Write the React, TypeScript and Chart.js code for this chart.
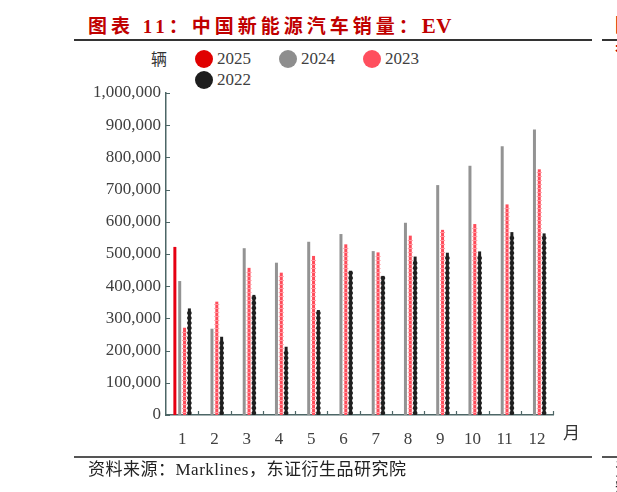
import { useEffect, useRef } from "react"
import { Chart, registerables } from "chart.js"

Chart.register(...registerables)

// data (vehicles per month)
const months = ["1", "2", "3", "4", "5", "6", "7", "8", "9", "10", "11", "12"]
const sales2025 = [522000]
const sales2024 = [416000, 268000, 518000, 473000, 538000, 562000, 509000, 597000, 714000, 774000, 835000, 887000]
const sales2023 = [271000, 352000, 457000, 442000, 494000, 530000, 505000, 557000, 575000, 593000, 654000, 763000]
const sales2022 = [331000, 243000, 373000, 212000, 326000, 448000, 432000, 492000, 504000, 508000, 568000, 564000]

const seriesNames = ["2025", "2024", "2023", "2022"]
const seriesColors = ["#e60012", "#939393", "#ff4d5b", "#1f1f1f"]
const legendColors = ["#e00000", "#8e8e8e", "#ff4f5e", "#1e1e1e"]

const yTickValues = [0, 100000, 200000, 300000, 400000, 500000, 600000, 700000, 800000, 900000, 1000000]

const SERIF = "'Liberation Serif', 'Noto Sans CJK SC', serif"
const AXIS_COLOR = "#4d6666"

// small inward ticks on both axes
const innerTicks = {
  id: "innerTicks",
  afterDraw(chart: any) {
    const { ctx, chartArea, scales } = chart
    const x = scales.x
    const y = scales.y
    ctx.save()
    ctx.strokeStyle = AXIS_COLOR
    ctx.lineWidth = 1.2
    ctx.beginPath()
    yTickValues.forEach((v) => {
      const py = Math.round(y.getPixelForValue(v)) + 0.5
      ctx.moveTo(chartArea.left, py)
      ctx.lineTo(chartArea.left + 4, py)
    })
    const step = x.width / months.length
    for (let i = 1; i <= months.length; i++) {
      const px = Math.round(x.left + i * step) + 0.5
      ctx.moveTo(px, chartArea.bottom)
      ctx.lineTo(px, chartArea.bottom - 4)
    }
    ctx.stroke()
    ctx.restore()
  },
}

// textured look of the 2023 / 2022 bars
const barTexture = {
  id: "barTexture",
  afterDatasetsDraw(chart: any) {
    const ctx = chart.ctx
    ctx.save()
    const m23 = chart.getDatasetMeta(2)
    ctx.fillStyle = "#ff9aa3"
    m23.data.forEach((bar: any) => {
      const { x, y, base, width } = bar.getProps(["x", "y", "base", "width"], true)
      for (let yy = base - 3; yy > y + 1; yy -= 4) {
        ctx.fillRect(x - width / 2 - 1, yy, width + 2, 1)
      }
    })
    const m22 = chart.getDatasetMeta(3)
    ctx.fillStyle = "#1f1f1f"
    m22.data.forEach((bar: any) => {
      const { x, y, base } = bar.getProps(["x", "y", "base", "width"], true)
      for (let yy = base - 2; yy > y + 2; yy -= 5) {
        ctx.beginPath()
        ctx.ellipse(x, yy, 2.4, 2, 0, 0, Math.PI * 2)
        ctx.fill()
      }
    })
    ctx.restore()
  },
}

const SalesChart = () => {
  const chartRef = useRef<HTMLCanvasElement>(null)
  const chartInstance = useRef<Chart | null>(null)

  useEffect(() => {
    if (!chartRef.current) return
    const ctx = chartRef.current.getContext("2d")
    if (!ctx) return

    if (chartInstance.current) chartInstance.current.destroy()

    const series = [sales2025, sales2024, sales2023, sales2022]

    chartInstance.current = new Chart(ctx, {
      type: "bar",
      data: {
        labels: months,
        datasets: series.map((d, i) => ({
          label: seriesNames[i],
          data: d,
          backgroundColor: seriesColors[i],
          borderWidth: 0,
          categoryPercentage: 0.6,
          barPercentage: 0.62,
        })),
      },
      options: {
        responsive: false,
        animation: false,
        layout: { padding: { top: 93, right: 64, left: 0, bottom: 0 } },
        plugins: {
          legend: { display: false },
          tooltip: { enabled: false },
          title: { display: false },
        },
        scales: {
          x: {
            grid: { display: false, drawTicks: false },
            border: { color: AXIS_COLOR, width: 1.5 },
            ticks: {
              color: "#404040",
              font: { family: SERIF, size: 17 },
              padding: 14,
              maxRotation: 0,
            },
            afterFit: (scale: any) => {
              scale.height = 77
            },
          },
          y: {
            min: 0,
            max: 1000000,
            grid: { display: false, drawTicks: false },
            border: { color: AXIS_COLOR, width: 1.5 },
            ticks: {
              stepSize: 100000,
              color: "#404040",
              font: { family: SERIF, size: 17 },
              padding: 5,
              callback: (v: any) => Number(v).toLocaleString("en-US"),
            },
            afterFit: (scale: any) => {
              scale.width = 166
            },
          },
        },
      },
      plugins: [innerTicks, barTexture],
    })

    return () => {
      if (chartInstance.current) {
        chartInstance.current.destroy()
        chartInstance.current = null
      }
    }
  }, [])

  return <canvas ref={chartRef} width={617} height={492} style={{ position: "absolute", left: 0, top: 0 }} />
}

export default function App() {
  return (
    <div style={{ position: "fixed", left: 0, top: 0, width: 617, height: 492, overflow: "hidden", background: "#fff" }}>
      <div
        style={{
          position: "absolute",
          left: 88,
          top: 15,
          fontFamily: SERIF,
          fontWeight: "bold",
          fontSize: 19,
          lineHeight: "22px",
          letterSpacing: 4,
          color: "#c00000",
          whiteSpace: "nowrap",
        }}
      >
        图表 11：中国新能源汽车销量：<span style={{ fontSize: 21, letterSpacing: 0.5 }}>EV</span>
      </div>
      <div style={{ position: "absolute", left: 615, top: 15, fontFamily: SERIF, fontWeight: "bold", fontSize: 19, lineHeight: "22px", color: "#c00000" }}>
        图表
      </div>
      <div style={{ position: "absolute", left: 74, top: 39, width: 518, height: 2, background: "#333" }} />
      <div style={{ position: "absolute", left: 602, top: 39, width: 20, height: 2, background: "#333" }} />

      <div style={{ position: "absolute", left: 151, top: 50, fontFamily: SERIF, fontSize: 16, lineHeight: "20px", color: "#333" }}>辆</div>

      {seriesNames.map((name, i) => {
        const col = i % 3
        const row = Math.floor(i / 3)
        const cx = 204 + col * 84
        const cy = 58.5 + row * 21.5
        return (
          <div key={name}>
            <div
              style={{
                position: "absolute",
                left: cx - 9,
                top: cy - 9,
                width: 18,
                height: 18,
                borderRadius: "50%",
                background: legendColors[i],
              }}
            />
            <div
              style={{
                position: "absolute",
                left: cx + 13,
                top: cy - 10,
                fontFamily: SERIF,
                fontSize: 17,
                lineHeight: "20px",
                color: "#404040",
              }}
            >
              {name}
            </div>
          </div>
        )
      })}

      <SalesChart />

      <div style={{ position: "absolute", left: 563, top: 424, fontFamily: SERIF, fontSize: 17, lineHeight: "20px", color: "#333" }}>月</div>

      <div style={{ position: "absolute", left: 74, top: 456, width: 518, height: 2, background: "#555" }} />
      <div style={{ position: "absolute", left: 602, top: 456, width: 20, height: 2, background: "#555" }} />
      <div
        style={{
          position: "absolute",
          left: 88,
          top: 460,
          fontFamily: SERIF,
          fontSize: 17,
          lineHeight: "20px",
          letterSpacing: 0.5,
          color: "#222",
          whiteSpace: "nowrap",
        }}
      >
        资料来源：Marklines，东证衍生品研究院
      </div>
      <div style={{ position: "absolute", left: 615, top: 460, fontFamily: SERIF, fontSize: 17, lineHeight: "20px", color: "#222" }}>
        资料
      </div>
    </div>
  )
}
